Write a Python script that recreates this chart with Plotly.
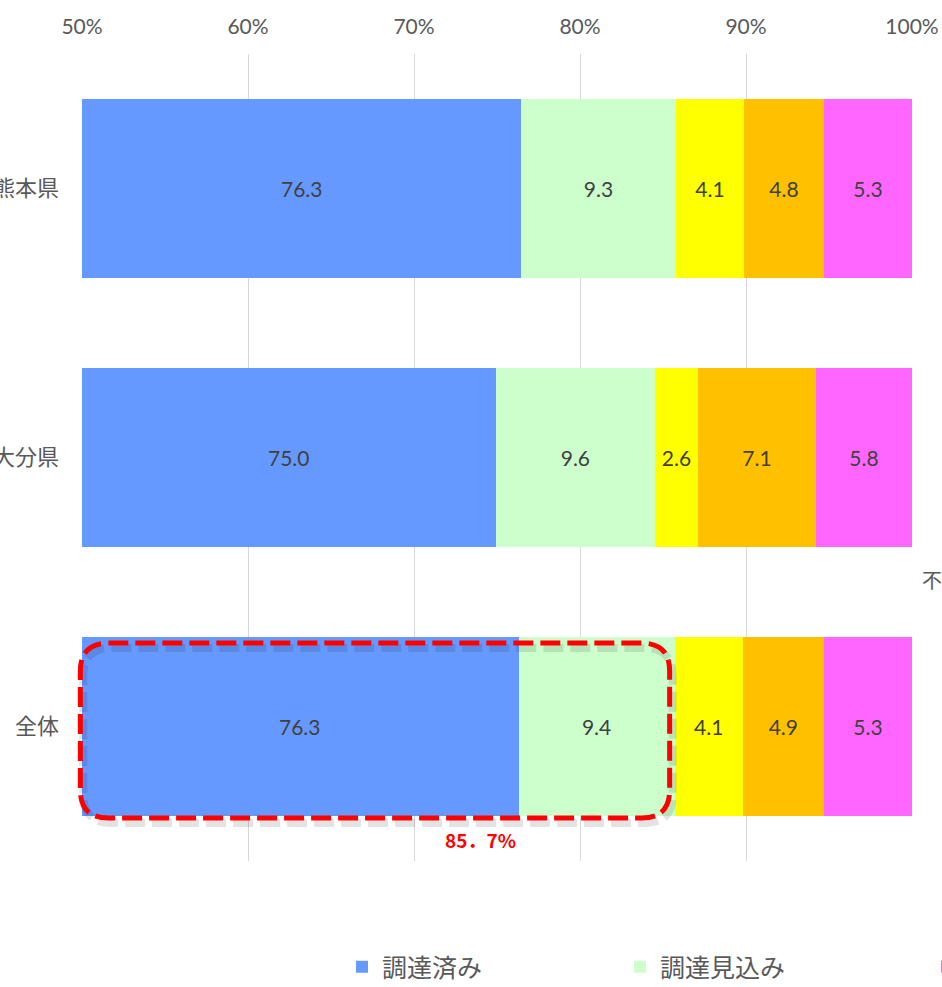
import plotly.graph_objects as go

# --- data -------------------------------------------------------------
categories = ["熊本県", "大分県", "全体"]
series_names = ["調達済み", "調達見込み", "一部調達", "調達困難", "不明"]
acquired = [76.3, 75.0, 76.3]
expected = [9.3, 9.6, 9.4]
partial = [4.1, 2.6, 4.1]
difficult = [4.8, 7.1, 4.9]
unknown = [5.3, 5.8, 5.3]
series_values = [acquired, expected, partial, difficult, unknown]
series_colors = ["#6699FF", "#CCFFCC", "#FFFF00", "#FFC000", "#FF66FF"]
x_ticks = [50, 60, 70, 80, 90, 100]

# --- layout constants -------------------------------------------------
W, H = 942, 987
M_L, M_R, M_T, M_B = 82, 30, 54, 126
PW, PH = W - M_L - M_R, H - M_T - M_B
X_RANGE = [50, 100]
Y_RANGE = [len(categories) - 0.5, -0.5]  # first category on top

FONT = "Lato, 'Noto Sans CJK JP', sans-serif"
CJK = "'Noto Sans CJK JP', sans-serif"
GREY = "#595959"
LABEL = dict(family=FONT, size=21, color="#404040")

legend_ids = ["legend", "legend2", "legend3", "legend3", "legend3"]

fig = go.Figure()
for i, (name, vals, color, lg) in enumerate(zip(series_names, series_values, series_colors, legend_ids)):
    fig.add_trace(go.Bar(
        y=categories,
        x=vals,
        name=name,
        orientation="h",
        marker=dict(color=color, line=dict(width=0)),
        # the first segment is only partly visible; its label is placed separately
        text=[f"{v:.1f}" for v in vals] if i > 0 else None,
        texttemplate="%{text}" if i > 0 else None,
        textposition="inside" if i > 0 else "none",
        insidetextanchor="middle",
        textangle=0,
        textfont=LABEL,
        legend=lg,
    ))

# labels of the first segment, centred on its visible part
row_sums = [sum(col) for col in zip(*series_values)]
for cat, v, s in zip(categories, acquired, row_sums):
    share = v / s * 100
    fig.add_annotation(x=(X_RANGE[0] + share) / 2, y=cat, xref="x", yref="y",
                       text=f"{v:.1f}", showarrow=False, font=LABEL)


# --- highlight frame around 調達済み + 調達見込み of 全体 --------------
def xd(v):
    return (v - X_RANGE[0]) / (X_RANGE[1] - X_RANGE[0])


def yd(v):
    return (Y_RANGE[0] - v) / (Y_RANGE[0] - Y_RANGE[1])


idx = categories.index("全体")
total = acquired[idx] + expected[idx]


def rounded_path(x0, x1, y0, y1, r_px, dx_px=0.0, dy_px=0.0):
    # corners in domain fractions; y0 is the top edge (smaller category index)
    ox, oy = dx_px / PW, -dy_px / PH
    rx, ry = r_px / PW, r_px / PH
    l, r = xd(x0) + ox, xd(x1) + ox
    t, b = yd(y0) + oy, yd(y1) + oy
    return (f"M{l + rx},{t} L{r - rx},{t} Q{r},{t} {r},{t - ry} "
            f"L{r},{b + ry} Q{r},{b} {r - rx},{b} "
            f"L{l + rx},{b} Q{l},{b} {l},{b + ry} "
            f"L{l},{t - ry} Q{l},{t} {l + rx},{t} Z")


frame = dict(x0=X_RANGE[0] - 0.1, x1=total - 0.3, y0=idx - 0.31, y1=idx + 0.34)
fig.add_shape(type="path", xref="x domain", yref="y domain",
              path=rounded_path(frame["x0"], frame["x1"], frame["y0"], frame["y1"], 28, 3, 5),
              line=dict(color="rgba(0,0,0,0.11)", width=8, dash="20px,7px"), layer="above")
fig.add_shape(type="path", xref="x domain", yref="y domain",
              path=rounded_path(frame["x0"], frame["x1"], frame["y0"], frame["y1"], 28),
              line=dict(color="#FF0000", width=5, dash="20px,7px"), layer="above")

fig.add_annotation(x=74.0, y=idx + 0.42, xref="x", yref="y",
                   text=f"<b>{total:.1f}%</b>".replace(".", "．"),
                   showarrow=False, font=dict(family=CJK, size=19, color="#FF0000"))

fig.add_annotation(x=1 + 8 / PW, y=yd(idx - 0.548), xref="paper", yref="paper",
                   xanchor="left", text="不明", showarrow=False,
                   font=dict(family=CJK, size=20, color=GREY))

legend_common = dict(orientation="h", xref="container", yref="container",
                     xanchor="left", yanchor="middle", y=1 - 967 / H,
                     font=dict(family=CJK, size=25, color=GREY),
                     bgcolor="rgba(0,0,0,0)", borderwidth=0)

fig.update_layout(
    width=W, height=H,
    margin=dict(l=M_L, r=M_R, t=M_T, b=M_B, autoexpand=False),
    paper_bgcolor="white", plot_bgcolor="white",
    barmode="stack", barnorm="percent", bargap=0.335,
    showlegend=True,
    legend=dict(x=(362 - 20) / W, **legend_common),
    legend2=dict(x=(640 - 20) / W, **legend_common),
    legend3=dict(x=(947 - 20) / W, **legend_common),
    xaxis=dict(range=X_RANGE, side="top", tickvals=x_ticks,
               ticktext=[f"{t}%" for t in x_ticks],
               showgrid=True, gridcolor="#D9D9D9", gridwidth=1,
               zeroline=False, showline=False, ticks="",
               ticklabelstandoff=15,
               tickfont=dict(family=FONT, size=21, color=GREY)),
    yaxis=dict(range=Y_RANGE, type="category", categoryorder="array",
               categoryarray=categories, showgrid=False, zeroline=False,
               showline=False, ticks="", ticklabelstandoff=22,
               tickfont=dict(family=CJK, size=22, color=GREY)),
)

fig.write_html("out.html")
